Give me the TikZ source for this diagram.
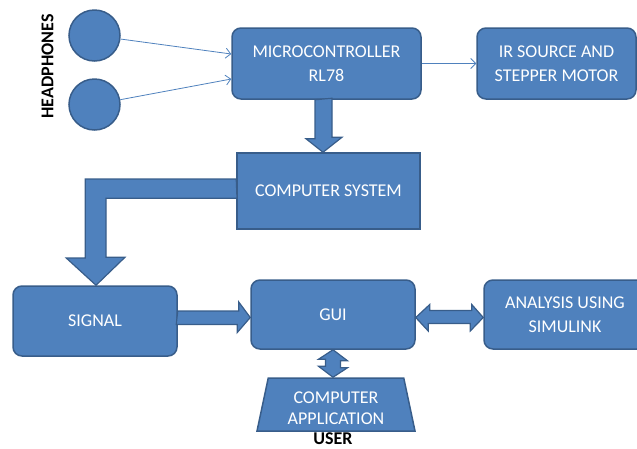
\documentclass[tikz,border=0pt]{standalone}
\usepackage{fontspec}
\setmainfont{Carlito}
\usepackage{tikz}
\usetikzlibrary{shapes.geometric,calc,arrows.meta}
\definecolor{boxblue}{HTML}{4F81BD}
\definecolor{boxedge}{HTML}{385D8A}

\begin{document}
\begin{tikzpicture}[x=1pt,y=-1pt,
    blockbox/.style={draw=boxedge,fill=boxblue,line width=1.5pt,rounded corners=9pt,
        text=white,align=center,inner sep=0pt,font=\fontsize{18}{24}\selectfont},
    sharpbox/.style={blockbox,rounded corners=0pt},
    earpiece/.style={circle,draw=boxedge,fill=boxblue,line width=1.5pt,minimum size=51pt,inner sep=0pt},
    fatarrow/.style={draw=boxedge,fill=boxblue,line width=1.2pt,line join=miter},
    thinarrow/.style={draw=boxblue,line width=0.8pt,-{Straight Barb[length=5pt,width=10pt]}},
    boldlabel/.style={text=black,font=\bfseries\fontsize{18}{20}\selectfont}]
    \useasboundingbox (0,0) rectangle (637,448);

    % headphones
    \node[earpiece] (hpA) at (94.5,35.5) {};
    \node[earpiece] (hpB) at (94.5,104.5) {};
    \node[boldlabel,rotate=90] (hplabel) at (47.5,66.5) {HEADPHONES};

    % top row
    \node[blockbox,minimum width=189pt,minimum height=71pt] (mc) at (326.5,63.5) {MICROCONTROLLER\\RL78};
    \node[blockbox,minimum width=159pt,minimum height=71pt] (ir) at (556.5,63.5) {IR SOURCE AND\\STEPPER MOTOR};
    \node[sharpbox,minimum width=183pt,minimum height=76pt] (cs) at (328.5,191) {COMPUTER SYSTEM};

    % bottom row
    \node[blockbox,minimum width=164pt,minimum height=70pt] (sig) at (95,321) {SIGNAL};
    \node[blockbox,minimum width=164pt,minimum height=69pt] (gui) at (333,314.5) {GUI};
    \node[blockbox,minimum width=162pt,minimum height=69pt] (ana) at (565,314.5) {ANALYSIS USING\\SIMULINK};
    \node[sharpbox,trapezium,trapezium left angle=75,trapezium right angle=75,trapezium stretches body,
        minimum width=158pt,minimum height=53pt,align=none,font=\fontsize{18}{21}\selectfont]
        (app) at (336,404.5)
        {\raisebox{-5.5pt}[\height][\depth]{\begin{tabular}{@{}c@{}}COMPUTER\\APPLICATION\end{tabular}}};
    \node[boldlabel] (user) at (333,438.5) {USER};

    % thin connectors
    \draw[thinarrow] (hpA) -- ($(mc.west)+(0,-9.5)$);
    \draw[thinarrow] (hpB) -- ($(mc.west)+(0,15.5)$);
    \draw[thinarrow] (mc) -- (ir);

    % block arrows
    \draw[fatarrow] ($(mc.south)+(-11.5,0)$) -- ++(0,39) -- ++(-9,0) -- ($(cs.north)+(-5.5,0)$)
        -- ++(19,-15) -- ++(-10,0) -- ++(0,-39) -- cycle;
    \draw[fatarrow] ($(cs.west)+(0,-12)$) -- ++(-151,0) -- ++(0,79) -- ++(-19,0) -- ($(sig.north)+(1,0)$)
        -- ++(29,-28) -- ++(-19,0) -- ++(0,-59) -- ++(131,0) -- cycle;
    \draw[fatarrow] ($(sig.east)+(0,-10)$) -- ++(61,0) -- ++(0,-9) -- ($(gui.west)+(0,3)$)
        -- ++(-13,15) -- ++(0,-8) -- ++(-61,0) -- cycle;
    \draw[fatarrow] ($(gui.east)+(0,3)$) -- ++(14,-13) -- ++(0,6) -- ++(42,0) -- ++(0,-6) -- ($(ana.west)+(0,3)$)
        -- ++(-13,13.5) -- ++(0,-7.5) -- ++(-42,0) -- ++(0,7.5) -- cycle;
    \draw[fatarrow] (gui.south) -- ++(14.5,11) -- ++(-7,0) -- ++(0,7) -- ++(7,0) -- (gui.south |- app.north)
        -- ++(-14.5,-11) -- ++(7,0) -- ++(0,-7) -- ++(-7,0) -- cycle;
\end{tikzpicture}
\end{document}
